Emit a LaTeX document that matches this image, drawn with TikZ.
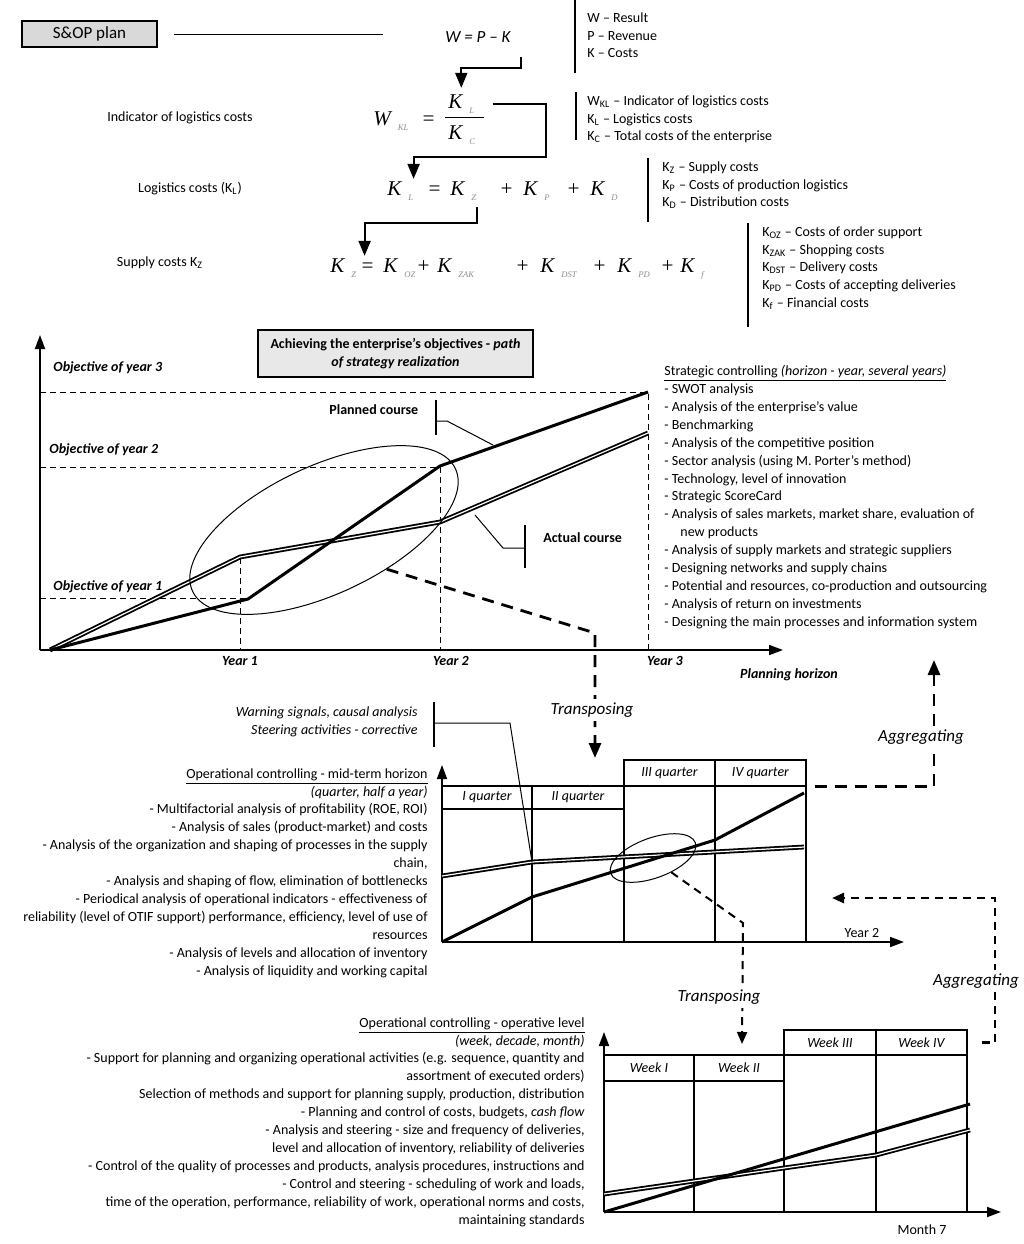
\documentclass[tikz,border=0pt]{standalone}
\usepackage{fontspec}
\setmainfont{Carlito}
\newfontfamily\frmfont{Liberation Serif}
\usetikzlibrary{arrows.meta,shapes.geometric}

\newcommand\ksub[2]{#1\kern3.5pt\raisebox{-2.5pt}{\color{black!45}\fontsize{4.3}{4.3}\selectfont #2}}

\begin{document}
\begin{tikzpicture}
  [x=0.5pt,y=-0.5pt,
   every node/.style={inner sep=0pt,font=\fontsize{7}{8.95}\selectfont},
   frm/.style={anchor=base west,font=\frmfont\itshape\fontsize{10.5}{10.5}\selectfont},
   flow/.style={line width=1pt,-{Triangle[width=6pt,length=7.5pt]}},
   bar/.style={line width=0.8pt},
   axis/.style={line width=0.9pt,-{Triangle[width=5pt,length=7pt]}},
   guide/.style={line width=0.5pt,dash pattern=on 3pt off 2pt},
   plan/.style={line width=1.5pt},
   actual/.style={double,line width=0.9pt,double distance=0.6pt},
   lead/.style={line width=0.5pt},
   conn/.style={line width=1.4pt,dash pattern=on 6pt off 4pt,-{Triangle[width=6pt,length=7.5pt]}},
   thinconn/.style={line width=1pt,dash pattern=on 4pt off 3pt,-{Triangle[width=5pt,length=6pt]}},
   cell/.style={line width=0.6pt},
   lab/.style={fill=white,inner sep=2pt,font=\itshape\fontsize{8.5}{8.5}\selectfont},
   qbox/.style={draw,line width=0.6pt,font=\itshape\fontsize{7}{8.95}\selectfont},
   ylab/.style={font=\bfseries\itshape\fontsize{7}{8.95}\selectfont}]
  \useasboundingbox (0,0) rectangle (1024,1244);

  % cost formulas
  \node [draw,fill=gray!30,line width=0.6pt,minimum width=67.5pt,minimum height=13pt,
         font=\fontsize{8.5}{8.5}\selectfont] (sop) at (89.5,34) {S\&OP plan};
  \node [anchor=west,font=\itshape\fontsize{8.5}{8.5}\selectfont] (wpk) at (445,37) {W = P – K};
  \draw [lead] ([xshift=8pt]sop.east) -- ([xshift=-31pt]wpk.west |- sop.east);

  \node [frm] (wkl) at (373,125) {\ksub{W}{KL}};
  \node [frm] (eq2) at (421,125) {=};
  \node [frm] (kln) at (448,108) {\ksub{K}{L}};
  \node [frm] (klc) at (448,139) {\ksub{K}{C}};
  \draw [lead] (445,117) -- (484,117);

  \foreach \n/\x/\t in {klhs/387/{\ksub{K}{L}},eq3/427/=,kz/450/{\ksub{K}{Z}},pl31/499/+,
                        kp/523/{\ksub{K}{P}},pl32/566/+,kd/590/{\ksub{K}{D}}}
    \node [frm] (\n) at (\x,195) {\t};
  \foreach \n/\x/\t in {kzlhs/330/{\ksub{K}{Z}},eq4/360/=,koz/383/{\ksub{K}{OZ}},pl41/416/+,
                        kzak/437/{\ksub{K}{ZAK}},pl42/515/+,kdst/540/{\ksub{K}{DST}},pl43/592/+,
                        kpd/617/{\ksub{K}{PD}},pl44/660/+,kf/680/{\ksub{K}{f}}}
    \node [frm] (\n) at (\x,272) {\t};

  \draw [flow,shorten >=3pt] (wpk.south east) ++(10,14) -- ++(0,11) -| (kln.north);
  \draw [flow,shorten >=1pt] ([xshift=9pt]kln.east) -- ++(53,0) -- ++(0,53) -| (klhs.north east);
  \draw [flow,shorten >=1pt] ([yshift=-3.5pt]kz.south east) -- ++(0,16) -| ([xshift=4pt]kzlhs.north east);

  \node (lind) at (180,118) {Indicator of logistics costs};
  \node (llog) at (190,189) {Logistics costs (K\textsubscript{L})};
  \node (lsup) at (160,263) {Supply costs K\textsubscript{Z}};

  \foreach \x/\a/\b in {575/0/73,576/92/140,648/158/222,748/223/327}
    \draw [bar] (\x,\a) -- (\x,\b);
  \node [anchor=north west,align=left] (leg1) at (587,12) {W – Result\\P – Revenue\\K – Costs};
  \node [anchor=north west,align=left] (leg2) at (587,95)
    {W\textsubscript{KL} – Indicator of logistics costs\\K\textsubscript{L} – Logistics costs\\
     K\textsubscript{C} – Total costs of the enterprise};
  \node [anchor=north west,align=left] (leg3) at (662,161)
    {K\textsubscript{Z} – Supply costs\\K\textsubscript{P} – Costs of production logistics\\
     K\textsubscript{D} – Distribution costs};
  \node [anchor=north west,align=left] (leg4) at (762,226)
    {K\textsubscript{OZ} – Costs of order support\\K\textsubscript{ZAK} – Shopping costs\\
     K\textsubscript{DST} – Delivery costs\\K\textsubscript{PD} – Costs of accepting deliveries\\
     K\textsubscript{f} – Financial costs};

  % strategy chart
  \node [draw,fill=gray!18,line width=0.6pt,minimum width=137.5pt,minimum height=23.5pt,align=center,
         font=\bfseries\fontsize{7}{8.95}\selectfont] (goal) at (395.5,353.5)
    {Achieving the enterprise's objectives - \textit{path}\\\textit{of strategy realization}};
  \draw [guide] (40,392) -- (648,392) -- (648,650);
  \draw [guide] (40,467) -- (440,467) -- (440,650);
  \draw [guide] (40,598) -- (248,598);
  \draw [guide] (240,558) -- (240,650);
  \draw [axis] (40,650) -- (40,335);
  \draw [axis] (40,650) -- (783,650);
  \node [ylab,anchor=west] (o3) at (53,368) {Objective of year 3};
  \node [ylab,anchor=west] (o2) at (49,450) {Objective of year 2};
  \node [ylab,anchor=west] (o1) at (53,587) {Objective of year 1};
  \foreach \n/\x/\t in {y1/240/Year 1,y2/451/Year 2,y3/665/Year 3}
    \node [ylab] (\n) at (\x,661) {\t};
  \node [ylab] (hor) at (789,675) {Planning horizon};

  \draw [actual] (50,650) -- (240,557) -- (440,522) -- (648,433);
  \draw [plan] (50,650) -- (248,599) -- (440,466) -- (648,392);
  \node [draw,ellipse,line width=0.5pt,minimum width=145pt,minimum height=64pt,rotate=25] (bigell) at (324,530) {};

  \node [font=\bfseries\fontsize{7}{8.95}\selectfont,anchor=west] (pc) at (329,410) {Planned course};
  \draw [bar] (436,400) -- (436,435);
  \draw [lead] (436,421) -- (447,421) -- (493,445);
  \node [font=\bfseries\fontsize{7}{8.95}\selectfont,anchor=west] (ac) at (543,538) {Actual course};
  \draw [bar] (525,525) -- (525,568);
  \draw [lead] (525,548) -- (503,548) -- (475,515);

  \node [anchor=north west,align=left] (strat) at (664,365)
    {\underline{Strategic controlling \textit{(horizon - year, several years)}}\\
     - SWOT analysis\\
     - Analysis of the enterprise's value\\
     - Benchmarking\\
     - Analysis of the competitive position\\
     - Sector analysis (using M. Porter’s method)\\
     - Technology, level of innovation\\
     - Strategic ScoreCard\\
     - Analysis of sales markets, market share, evaluation of\\
     \hspace*{8pt}new products\\
     - Analysis of supply markets and strategic suppliers\\
     - Designing networks and supply chains\\
     - Potential and resources, co-production and outsourcing\\
     - Analysis of return on investments\\
     - Designing the main processes and information system};

  % quarter chart
  \node [anchor=north east,align=right,font=\itshape\fontsize{7}{8.95}\selectfont] (warn) at (418,706)
    {Warning signals, causal analysis\\Steering activities - corrective};
  \node [anchor=north east,align=right] (opmid) at (428,768)
    {\underline{Operational controlling - mid-term horizon}\\
     \textit{(quarter, half a year)}\\
     - Multifactorial analysis of profitability (ROE, ROI)\\
     - Analysis of sales (product-market) and costs\\
     - Analysis of the organization and shaping of processes in the supply\\
     chain,\\
     - Analysis and shaping of flow, elimination of bottlenecks\\
     - Periodical analysis of operational indicators - effectiveness of\\
     reliability (level of OTIF support) performance, efficiency, level of use of\\
     resources\\
     - Analysis of levels and allocation of inventory\\
     - Analysis of liquidity and working capital};

  \foreach \n/\x/\y/\w/\h/\t in {q1/487/797.5/45/11.5/I quarter,q2/578/797.5/46/11.5/II quarter,
                                 q3/669.5/773/45.5/13/III quarter,q4/760.5/773/45.5/13/IV quarter}
    \node [qbox,minimum width=\w pt,minimum height=\h pt] (\n) at (\x,\y) {\t};
  \foreach \x/\t in {532/809,624/786,715/786,806/786}
    \draw [cell] (\x,\t) -- (\x,942);
  \draw [axis] (442,942) -- (442,765);
  \draw [axis] (442,942) -- (904,942);
  \node (yq) at (862,933) {Year 2};
  \draw [actual] (442,876) -- (532,862) -- (804,847);
  \draw [plan] (442,942) -- (532,897) -- (715,840) -- (804,793);
  \node [draw,ellipse,line width=0.5pt,minimum width=45pt,minimum height=20pt,rotate=20] (smallell) at (653,858) {};
  \draw [bar] (434,702) -- (434,747);
  \draw [lead] (434,723) -- (510,723) -- (532,862);

  % week chart
  \node [anchor=north east,align=right] (opop) at (585,1017)
    {\underline{Operational controlling - operative level}\\
     \textit{(week, decade, month)}\\
     - Support for planning and organizing operational activities (e.g. sequence, quantity and\\
     assortment of executed orders)\\
     Selection of methods and support for planning supply, production, distribution\\
     - Planning and control of costs, budgets, \textit{cash flow}\\
     - Analysis and steering - size and frequency of deliveries,\\
     level and allocation of inventory, reliability of deliveries\\
     - Control of the quality of processes and products, analysis procedures, instructions and\\
     - Control and steering - scheduling of work and loads,\\
     time of the operation, performance, reliability of work, operational norms and costs,\\
     maintaining standards};

  \foreach \n/\x/\y/\w/\h/\t in {w1/649/1068/45/13/Week I,w2/739/1068/45/13/Week II,
                                 w3/830/1042.5/46/12.5/Week III,w4/921.5/1042.5/45.5/12.5/Week IV}
    \node [qbox,minimum width=\w pt,minimum height=\h pt] (\n) at (\x,\y) {\t};
  \foreach \x/\t in {694/1081,784/1055,876/1055,967/1055}
    \draw [cell] (\x,\t) -- (\x,1212);
  \draw [axis] (604,1212) -- (604,1032);
  \draw [axis] (604,1212) -- (1001,1212);
  \node (mo) at (922,1230) {Month 7};
  \draw [actual] (604,1194) -- (784,1168) -- (876,1155) -- (970,1130);
  \draw [plan] (604,1212) -- (970,1104);

  % transposing and aggregating
  \coordinate (tq) at (595,758);
  \coordinate (tw) at (742,1044);
  \coordinate (agg1) at (934,660);
  \coordinate (agg2) at (832,898);
  \draw [conn] (bigell.-57) -- (595,633) -- (tq);
  \draw [thinconn] (smallell.-58) -- (743,923) -- (tw);
  \draw [conn] ([xshift=4pt]q4.south east) -| (agg1);
  \draw [thinconn,line width=1.2pt] ([xshift=7pt]w4.east) -| (995,898) -- (agg2);
  \node [lab] (tr1) at (592,710) {Transposing};
  \node [lab] (tr2) at (719,997) {Transposing};
  \node [lab] (ag1) at (921,737) {Aggregating};
  \node [lab] (ag2) at (976,981) {Aggregating};

\end{tikzpicture}
\end{document}
